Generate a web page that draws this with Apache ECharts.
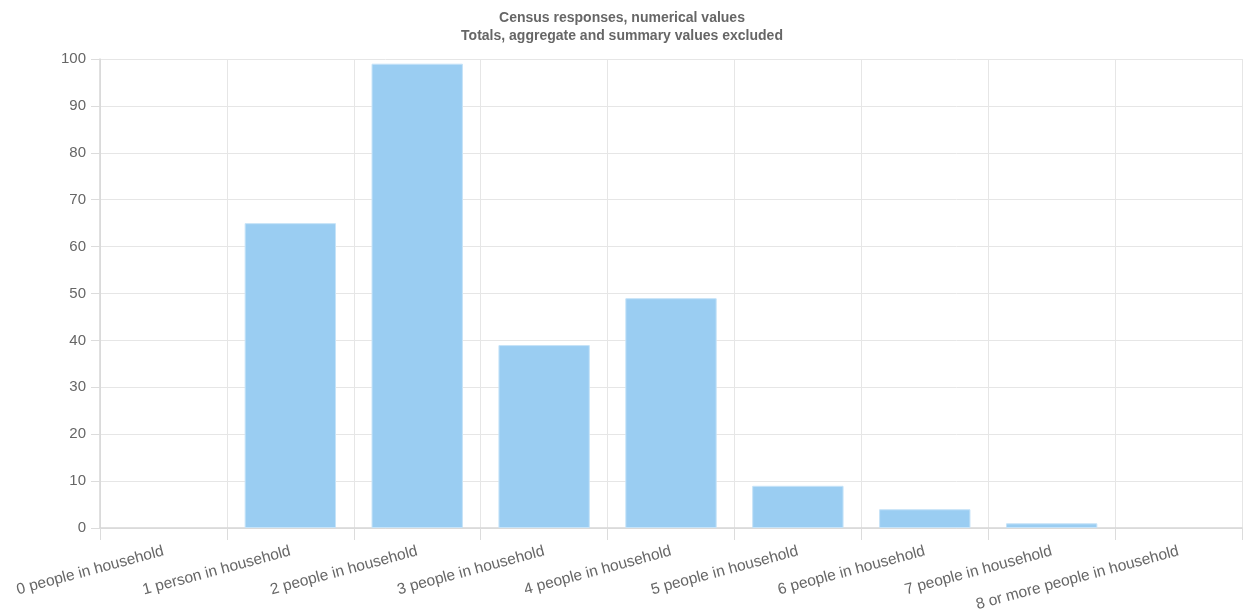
<!DOCTYPE html>
<html><head><meta charset="utf-8">
<script src="https://cdn.jsdelivr.net/npm/echarts@6/dist/echarts.min.js"></script>
<style>html,body{margin:0;padding:0;background:#fff}#c{width:1244px;height:610px}</style>
</head><body><div id="c"></div>
<script>
const categories = ["0 people in household","1 person in household","2 people in household","3 people in household","4 people in household","5 people in household","6 people in household","7 people in household","8 or more people in household"];
const values = [0, 65, 99, 39, 49, 9, 4, 1, 0];
const yTicks = {min: 0, max: 100, interval: 10};
const titleLines = ["Census responses, numerical values", "Totals, aggregate and summary values excluded"];

const chart = echarts.init(document.getElementById('c'), null, {renderer: 'canvas'});
chart.setOption({
  animation: false,
  title: {
    text: titleLines.join('\n'),
    left: 'center', top: 4,
    textStyle: {fontFamily: 'Liberation Sans, Arial', fontSize: 14, fontWeight: 'bold', color: '#666', lineHeight: 18}
  },
  grid: {left: 100, right: 2, top: 59, bottom: 82, containLabel: false, outerBoundsMode: 'none'},
  xAxis: {
    type: 'category', data: categories,
    axisLine: {lineStyle: {color: '#d6d6d6', width: 1.5}},
    axisTick: {show: true, alignWithLabel: false, length: 12, lineStyle: {color: '#dcdcdc'}},
    splitLine: {show: true, lineStyle: {color: '#e6e6e6'}},
    axisLabel: {rotate: 15, color: '#666', fontSize: 15.5, fontFamily: 'Liberation Sans, Arial', margin: 23, interval: 0}
  },
  yAxis: {
    type: 'value', min: yTicks.min, max: yTicks.max, interval: yTicks.interval,
    axisLine: {show: true, lineStyle: {color: '#d6d6d6', width: 1.5}},
    axisTick: {show: true, length: 9, lineStyle: {color: '#dcdcdc'}},
    splitLine: {lineStyle: {color: '#e6e6e6'}},
    axisLabel: {color: '#666', fontSize: 15, fontFamily: 'Liberation Sans, Arial', margin: 14}
  },
  series: [{
    type: 'bar',
    data: values.map(v => v === 0 ? {value: v, itemStyle: {borderWidth: 0, opacity: 0}} : v),
    barWidth: '72%',
    itemStyle: {color: '#9acdf2', borderColor: '#c6e3f8', borderWidth: 1}
  }]
});
</script></body></html>
